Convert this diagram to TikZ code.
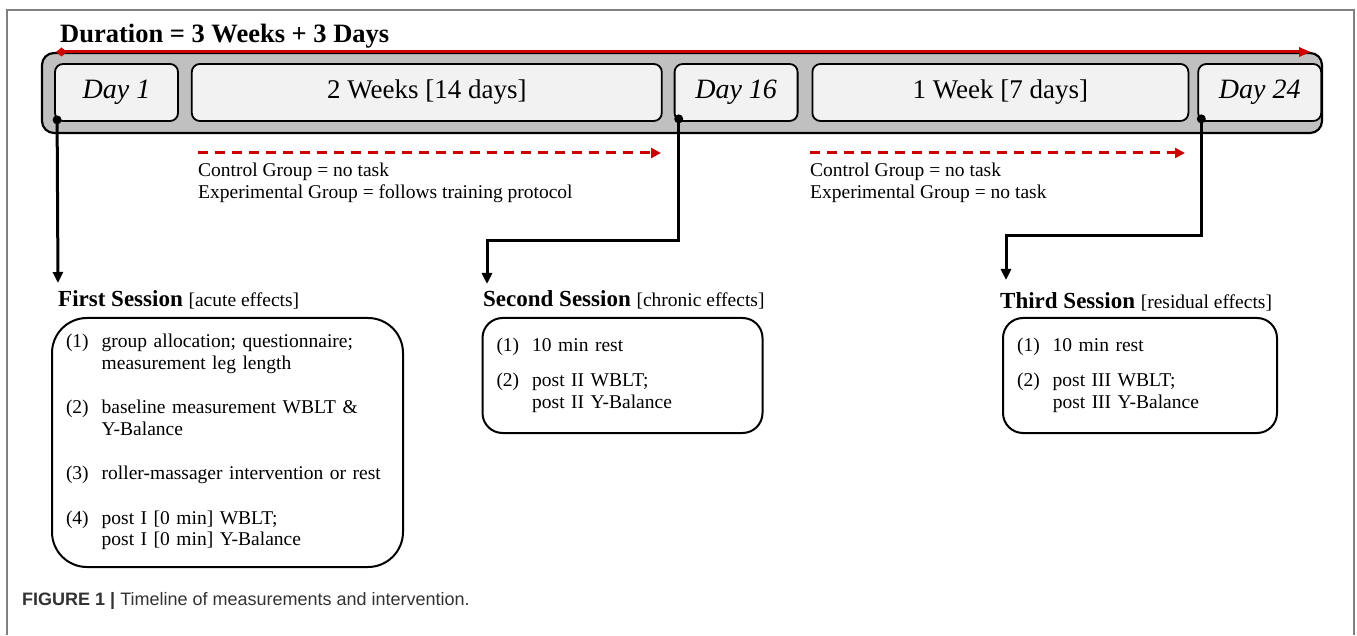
\documentclass[tikz,border=0pt]{standalone}
\usepackage{fontspec}
\setmainfont{Liberation Serif}
\setsansfont{Liberation Sans}
\usetikzlibrary{positioning,calc,arrows.meta}

\definecolor{tlred}{RGB}{204,0,0}
\definecolor{barfill}{RGB}{192,192,192}
\definecolor{boxfill}{RGB}{242,242,242}
\definecolor{framegray}{RGB}{128,128,128}
\definecolor{captext}{RGB}{50,50,50}

\begin{document}
\begin{tikzpicture}[x=1pt, y=-1pt, node distance=12pt,
  bar/.style={draw, line width=2.2pt, rounded corners=12pt, fill=barfill, minimum width=1280pt, minimum height=80pt},
  periodbox/.style={draw, line width=1.8pt, rounded corners=8pt, fill=boxfill, minimum height=57pt, inner sep=0pt, font=\fontsize{27}{29}\selectfont},
  daybox/.style={periodbox, minimum width=123pt, font=\fontsize{28}{30}\selectfont\itshape},
  conn/.style={line width=3pt, -{Triangle[length=11pt,width=10pt]}},
  dashline/.style={tlred, line width=3pt, dash pattern=on 10pt off 7pt, -{Triangle[length=10pt,width=10pt]}},
  note/.style={align=left, inner sep=0pt, anchor=north west, font=\fontsize{19.5}{21.5}\selectfont},
  head/.style={inner sep=0pt, anchor=base west, font=\fontsize{23}{25}\selectfont\bfseries},
  session/.style={draw, line width=2pt, align=left, inner xsep=14pt, font=\fontsize{19.5}{21.5}\selectfont}]

% frame
\draw[framegray, line width=1.5pt] (7,635) |- (1354,10) -- (1354,635);

% timeline bar
\node[bar] (bar) at (682,93) {};
\node[daybox] (day1) at (116.5,92.5) {Day 1};
\node[periodbox, minimum width=470pt] (weeks) [right=12pt of day1] {2 Weeks [14 days]};
\node[daybox] (day16) [right=11pt of weeks] {Day 16};
\node[periodbox, minimum width=376pt] (week) [right=13pt of day16] {1 Week [7 days]};
\node[daybox] (day24) [right=8pt of week] {Day 24};

\node[inner sep=0pt, anchor=base west, font=\fontsize{26.5}{28}\selectfont\bfseries] (title) at (60,43) {Duration = 3 Weeks + 3 Days};
\coordinate (start) at (56,52);
\coordinate (stop) at (1311,52);
\draw[tlred, line width=3pt, {Diamond[length=11pt,width=9pt]}-{Triangle[length=12pt,width=9pt]}] (start) -- (stop);

% dots on the day boxes
\coordinate (dot1) at ($(day1.south west)+(3,-2)$);
\coordinate (dot16) at ($(day16.south west)+(5,-3)$);
\coordinate (dot24) at ($(day24.south west)+(4,-3)$);
\foreach \d in {dot1,dot16,dot24}
  \fill (\d) circle (4.5pt);

% group notes
\coordinate (a1) at (198,153);
\coordinate (b1) at (661,153);
\coordinate (a2) at (810,153);
\coordinate (b2) at (1185,153);
\draw[dashline] (a1) -- (b1);
\draw[dashline] (a2) -- (b2);
\node[note] (note1) at (198,163) {Control Group = no task\\Experimental Group = follows training protocol};
\node[note] (note2) at (810,163) {Control Group = no task\\Experimental Group = no task};

% sessions
\node[head] (h1) at (58,307) {First Session {\mdseries\fontsize{19.5}{21.5}\selectfont [acute effects]}};
\node[head] (h2) at (483,307) {Second Session {\mdseries\fontsize{19.5}{21.5}\selectfont [chronic effects]}};
\node[head] (h3) at (1000,309) {Third Session {\mdseries\fontsize{19.5}{21.5}\selectfont [residual effects]}};

\coordinate (in1) at (58,283);
\coordinate (in2) at (487,284);
\coordinate (in3) at (1006,280);
\draw[conn] (dot1) -- (in1);
\draw[conn] (dot16) |- (676,241) -| (in2);
\draw[conn] (dot24) |- (1195,236) -| (in3);

\node[session, text width=323pt, minimum height=249pt, rounded corners=35pt] (s1) at (227.5,442.5) {\noindent\begin{tabular}{@{}l@{\hspace{13pt}}l@{}}
(1) & group allocation; questionnaire;\\
    & measurement leg length\\[23pt]
(2) & baseline measurement WBLT \&\\
    & Y-Balance\\[23pt]
(3) & roller-massager intervention or rest\\[23pt]
(4) & post I [0 min] WBLT;\\
    & post I [0 min] Y-Balance
\end{tabular}};
\node[session, text width=252pt, minimum height=115pt, rounded corners=20pt] (s2) at (622.5,375.5) {\noindent\begin{tabular}{@{}l@{\hspace{13pt}}l@{}}
(1) & 10 min rest\\[14pt]
(2) & post II WBLT;\\
    & post II Y-Balance
\end{tabular}};
\node[session, text width=246pt, minimum height=115pt, rounded corners=20pt] (s3) at (1140,375.5) {\noindent\begin{tabular}{@{}l@{\hspace{13pt}}l@{}}
(1) & 10 min rest\\[14pt]
(2) & post III WBLT;\\
    & post III Y-Balance
\end{tabular}};

\node[anchor=base west, inner sep=0pt, text=captext, font=\sffamily\fontsize{18}{21}\selectfont] (cap) at (22,605) {\textbf{FIGURE 1 |} Timeline of measurements and intervention.};

\useasboundingbox (0,0) rectangle (1357,635);
\end{tikzpicture}
\end{document}
